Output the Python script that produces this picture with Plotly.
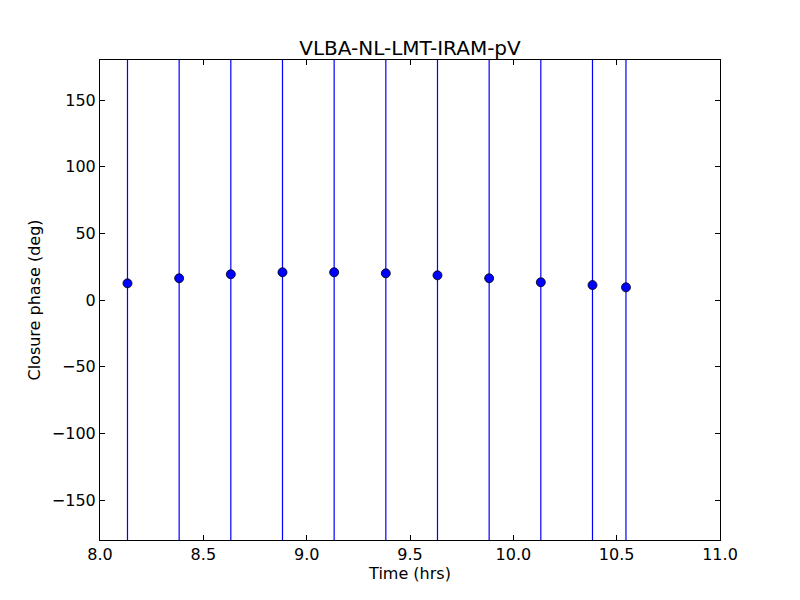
import plotly.graph_objects as go

time_hrs = [8.133, 8.383, 8.633, 8.883, 9.133, 9.383, 9.633, 9.883, 10.133, 10.383, 10.545]
closure_phase = [12.5, 16.3, 19.3, 20.8, 20.8, 20.0, 18.5, 16.3, 13.3, 11.2, 9.5]
phase_err = [400, 400, 400, 400, 400, 400, 400, 400, 400, 400, 400]

x_ticks = [8.0, 8.5, 9.0, 9.5, 10.0, 10.5, 11.0]
x_tick_labels = ["8.0", "8.5", "9.0", "9.5", "10.0", "10.5", "11.0"]
y_ticks = [-150, -100, -50, 0, 50, 100, 150]
y_tick_labels = ["\u2212150", "\u2212100", "\u221250", "0", "50", "100", "150"]

fig = go.Figure()
fig.add_trace(go.Scatter(
    x=time_hrs, y=closure_phase, mode="markers",
    marker=dict(color="#0000ff", size=9, line=dict(color="black", width=0.8)),
    error_y=dict(type="data", array=phase_err, visible=True, color="#0000ff", thickness=1.2, width=0),
    showlegend=False,
))

font = "DejaVu Sans"
axis_common = dict(
    showgrid=False, zeroline=False, showline=True, linecolor="black", linewidth=1,
    mirror="ticks", ticks="inside", ticklen=5, tickcolor="black", tickwidth=1,
    tickfont=dict(family=font, size=16, color="black"),
)
fig.update_layout(
    width=800, height=600,
    margin=dict(l=100, r=80, t=60, b=60),
    paper_bgcolor="white", plot_bgcolor="white",
    title=dict(text="VLBA-NL-LMT-IRAM-pV", x=0.5, xref="paper", xanchor="center",
               y=1, yref="paper", yanchor="bottom", pad=dict(b=5),
               font=dict(family=font, size=20, color="black")),
    xaxis=dict(range=[8.0, 11.0], tickvals=x_ticks, ticktext=x_tick_labels,
               title=dict(text="Time (hrs)", font=dict(family=font, size=16, color="black"), standoff=4),
               **axis_common),
    yaxis=dict(range=[-180, 180], tickvals=y_ticks, ticktext=y_tick_labels,
               title=dict(text="Closure phase (deg)", font=dict(family=font, size=16, color="black"), standoff=7),
               **axis_common),
)
fig.write_html("out.html", config={"displayModeBar": False},
               post_script="document.body.style.margin='0';document.body.style.overflow='hidden';")
